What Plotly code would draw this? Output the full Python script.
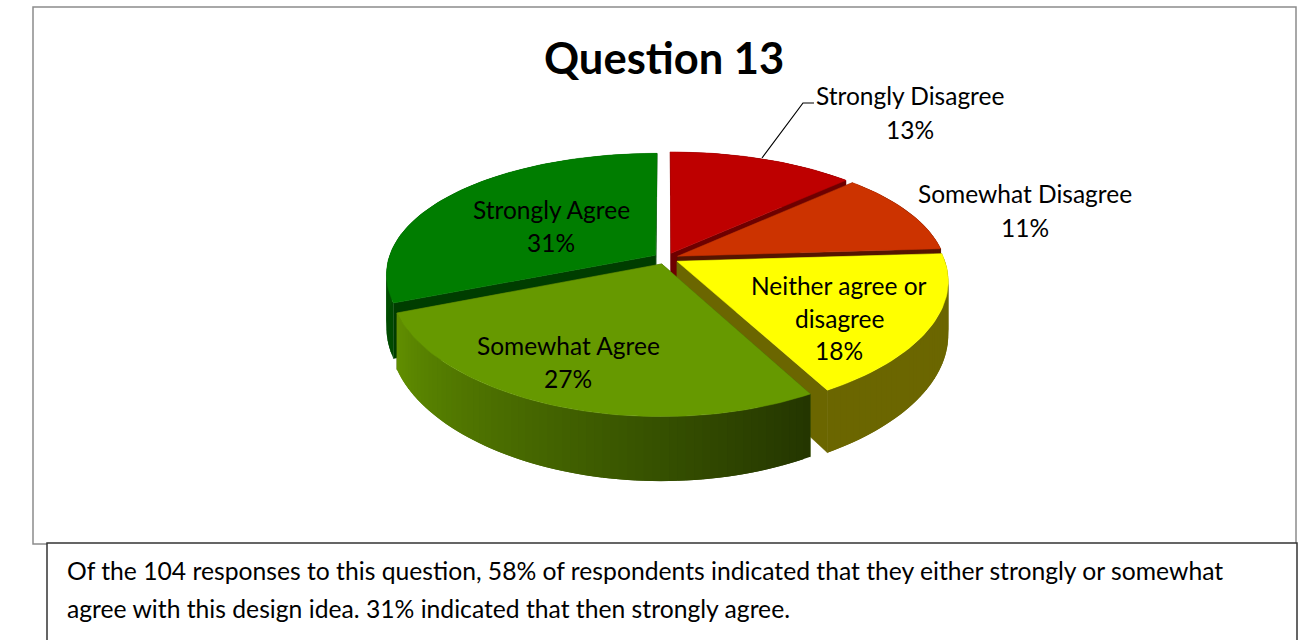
import math
import plotly.graph_objects as go

# ---- data ----
TITLE = "Question 13"
categories = ["Strongly Disagree", "Somewhat Disagree", "Neither agree or disagree", "Somewhat Agree", "Strongly Agree"]
percents = [13, 11, 18, 27, 31]
label_lines = [["Strongly Disagree"], ["Somewhat Disagree"], ["Neither agree or", "disagree"], ["Somewhat Agree"], ["Strongly Agree"]]
caption_lines = [
    "Of the 104 responses to this question, 58% of respondents indicated that they either strongly or somewhat",
    "agree with this design idea. 31% indicated that then strongly agree.",
]

# ---- styles ----
top_colors = ["#BE0000", "#CC3300", "#FFFF00", "#669900", "#007D00"]
face_colors = ["#6E0000", "#551500", "#6B6600", "#3A5500", "#003D00"]
wall_from = [(0x6E, 0, 0), (0x55, 0x15, 0), (0x6B, 0x66, 0), (0x24, 0x36, 0), (0, 0x4A, 0)]
wall_to = [(0x6E, 0, 0), (0x55, 0x15, 0), (0x6B, 0x66, 0), (0x62, 0x90, 0), (0, 0x70, 0)]
FONT = "Lato"

# ---- projection of the tilted pie ----
CX, CY, RX, RY, K, KX, DEPTH, EXPLODE = 666, 258.5, 267, 122, 0.186, 0.15, 52, 0.047
label_pos = [(910, 95, 129), (1025, 193, 227), (839, 285, 318, 350), (568, 345, 378), (551, 209, 242)]
draw_order = [4, 0, 1, 2, 3]


def project(u, v, z=0.0):
    s = 1 / (1 + K * v)
    return CX + RX * u / (1 + KX * v), CY - RY * v * s + DEPTH * z * s


fig = go.Figure()


def poly(pts, color, width=0.5):
    pts = pts + [pts[0]]
    fig.add_trace(go.Scatter(x=[p[0] for p in pts], y=[p[1] for p in pts], mode="lines", fill="toself",
                             fillcolor=color, line=dict(color=color, width=width),
                             hoverinfo="skip", showlegend=False))


edges = [0.0]
for p in percents:
    edges.append(edges[-1] + p / sum(percents) * 2 * math.pi)

for i in draw_order:
    a0, a1 = edges[i], edges[i + 1]
    mid = (a0 + a1) / 2
    ou, ov = EXPLODE * math.sin(mid), EXPLODE * math.cos(mid)
    n = max(8, int((a1 - a0) / math.radians(1.5)))
    angs = [a0 + (a1 - a0) * t / n for t in range(n + 1)]
    rim = [(ou + math.sin(a), ov + math.cos(a)) for a in angs]

    # radial cut faces
    for u, v in (rim[0], rim[-1]):
        poly([project(ou, ov, 0), project(u, v, 0), project(u, v, 1), project(ou, ov, 1)], face_colors[i])

    # outer wall, shaded strip by strip; each strip overlaps the next to avoid seams
    for j in range(n):
        t = (j + 0.5) / n
        col = tuple(int(wall_from[i][c] + (wall_to[i][c] - wall_from[i][c]) * t) for c in range(3))
        (u0, v0), (u1, v1) = rim[j], rim[min(j + 2, n)]
        poly([project(u0, v0, 0), project(u1, v1, 0), project(u1, v1, 1), project(u0, v0, 1)],
             "rgb(%d,%d,%d)" % col, width=0)

    # top surface
    poly([project(ou, ov)] + [project(u, v) for u, v in rim], top_colors[i])

# leader line of the first label
fig.add_trace(go.Scatter(x=[762, 803, 814], y=[158, 103, 103], mode="lines",
                         line=dict(color="black", width=1.2), hoverinfo="skip", showlegend=False))

# frame and caption box
fig.add_shape(type="rect", x0=33, y0=7, x1=1296, y1=544, line=dict(color="#8C8C8C", width=1.5), layer="below")
fig.add_shape(type="rect", x0=47, y0=543, x1=1297, y1=660, line=dict(color="#333333", width=1.5),
              fillcolor="white", layer="below")


def text(x, y, s, size, bold=False, anchor="center"):
    fig.add_annotation(x=x, y=y, text="<b>%s</b>" % s if bold else s, showarrow=False, xanchor=anchor,
                       yanchor="middle", font=dict(family=FONT, size=size, color="black"))


text(664, 57, TITLE, 43.5, bold=True)
for i, lines in enumerate(label_lines):
    pos = label_pos[i]
    rows = lines + ["%d%%" % percents[i]]
    for r, row in enumerate(rows):
        text(pos[0], pos[r + 1], row, 24.5)
text(65, 570, caption_lines[0], 24.7, anchor="left")
text(65, 608, caption_lines[1], 24.7, anchor="left")

fig.update_layout(
    width=1308, height=640, margin=dict(l=0, r=0, t=0, b=0), plot_bgcolor="white", paper_bgcolor="white",
    xaxis=dict(range=[0, 1308], visible=False, fixedrange=True),
    yaxis=dict(range=[640, 0], visible=False, fixedrange=True),
    showlegend=False,
)
fig.write_html("out.html", config={"displayModeBar": False},
               post_script="document.body.style.margin='0';")
